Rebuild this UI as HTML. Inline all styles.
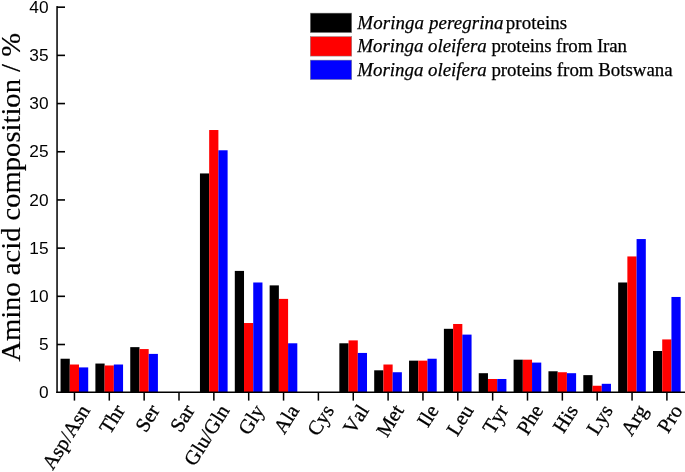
<!DOCTYPE html>
<html><head><meta charset="utf-8"><title>Amino acid composition</title>
<style>
html,body{margin:0;padding:0;background:#fff}
svg{display:block}
.ax{font-family:"Liberation Sans",Arial,sans-serif;font-size:17.3px;fill:#000}
.lb{font-family:"Liberation Serif","Times New Roman",serif;font-size:20.5px;fill:#000;stroke:#000;stroke-width:0.3px;font-kerning:none}
.yt{font-family:"Liberation Serif","Times New Roman",serif;font-size:26.8px;fill:#000;stroke:#000;stroke-width:0.15px}
.lg{font-family:"Liberation Serif","Times New Roman",serif;font-size:18.9px;fill:#000;stroke:#000;stroke-width:0.25px}
</style></head><body>
<svg width="685" height="472" viewBox="0 0 685 472">
<rect width="685" height="472" fill="#fff"/>
<rect x="60.55" y="358.73" width="9.22" height="33.77" fill="#000"/>
<rect x="69.77" y="364.51" width="9.22" height="27.98" fill="#f00"/>
<rect x="78.99" y="367.41" width="9.22" height="25.09" fill="#00f"/>
<rect x="95.40" y="363.55" width="9.22" height="28.95" fill="#000"/>
<rect x="104.62" y="365.48" width="9.22" height="27.02" fill="#f00"/>
<rect x="113.84" y="364.51" width="9.22" height="27.98" fill="#00f"/>
<rect x="130.25" y="347.14" width="9.22" height="45.36" fill="#000"/>
<rect x="139.47" y="349.07" width="9.22" height="43.43" fill="#f00"/>
<rect x="148.69" y="353.90" width="9.22" height="38.60" fill="#00f"/>
<rect x="199.95" y="173.44" width="9.22" height="219.06" fill="#000"/>
<rect x="209.17" y="130.02" width="9.22" height="262.48" fill="#f00"/>
<rect x="218.39" y="150.28" width="9.22" height="242.22" fill="#00f"/>
<rect x="234.80" y="270.91" width="9.22" height="121.59" fill="#000"/>
<rect x="244.02" y="323.02" width="9.22" height="69.48" fill="#f00"/>
<rect x="253.24" y="282.49" width="9.22" height="110.01" fill="#00f"/>
<rect x="269.65" y="285.38" width="9.22" height="107.11" fill="#000"/>
<rect x="278.87" y="298.89" width="9.22" height="93.60" fill="#f00"/>
<rect x="288.09" y="343.29" width="9.22" height="49.21" fill="#00f"/>
<rect x="339.35" y="343.29" width="9.22" height="49.21" fill="#000"/>
<rect x="348.57" y="340.39" width="9.22" height="52.11" fill="#f00"/>
<rect x="357.79" y="352.94" width="9.22" height="39.56" fill="#00f"/>
<rect x="374.20" y="370.31" width="9.22" height="22.20" fill="#000"/>
<rect x="383.42" y="364.51" width="9.22" height="27.98" fill="#f00"/>
<rect x="392.64" y="372.24" width="9.22" height="20.27" fill="#00f"/>
<rect x="409.05" y="360.65" width="9.22" height="31.84" fill="#000"/>
<rect x="418.27" y="360.65" width="9.22" height="31.84" fill="#f00"/>
<rect x="427.49" y="358.73" width="9.22" height="33.77" fill="#00f"/>
<rect x="443.90" y="328.81" width="9.22" height="63.69" fill="#000"/>
<rect x="453.12" y="323.99" width="9.22" height="68.52" fill="#f00"/>
<rect x="462.34" y="334.60" width="9.22" height="57.90" fill="#00f"/>
<rect x="478.75" y="373.20" width="9.22" height="19.30" fill="#000"/>
<rect x="487.97" y="378.99" width="9.22" height="13.51" fill="#f00"/>
<rect x="497.19" y="378.99" width="9.22" height="13.51" fill="#00f"/>
<rect x="513.60" y="359.69" width="9.22" height="32.81" fill="#000"/>
<rect x="522.82" y="359.69" width="9.22" height="32.81" fill="#f00"/>
<rect x="532.04" y="362.58" width="9.22" height="29.92" fill="#00f"/>
<rect x="548.45" y="371.27" width="9.22" height="21.23" fill="#000"/>
<rect x="557.67" y="372.24" width="9.22" height="20.27" fill="#f00"/>
<rect x="566.89" y="373.20" width="9.22" height="19.30" fill="#00f"/>
<rect x="583.30" y="375.13" width="9.22" height="17.37" fill="#000"/>
<rect x="592.52" y="385.75" width="9.22" height="6.75" fill="#f00"/>
<rect x="601.74" y="383.81" width="9.22" height="8.69" fill="#00f"/>
<rect x="618.15" y="282.49" width="9.22" height="110.01" fill="#000"/>
<rect x="627.37" y="256.44" width="9.22" height="136.06" fill="#f00"/>
<rect x="636.59" y="239.06" width="9.22" height="153.44" fill="#00f"/>
<rect x="653.00" y="351.00" width="9.22" height="41.49" fill="#000"/>
<rect x="662.22" y="339.43" width="9.22" height="53.08" fill="#f00"/>
<rect x="671.44" y="296.96" width="9.22" height="95.54" fill="#00f"/>
<rect x="56.3" y="6.1" width="1.5" height="386.9" fill="#000"/>
<rect x="56.3" y="391.5" width="628.7" height="1.5" fill="#000"/>
<text class="ax" x="48.6" y="398.40" text-anchor="end">0</text>
<rect x="57" y="343.71" width="8" height="1.6" fill="#000"/>
<text class="ax" x="48.6" y="350.21" text-anchor="end">5</text>
<rect x="57" y="295.52" width="8" height="1.6" fill="#000"/>
<text class="ax" x="48.6" y="302.02" text-anchor="end">10</text>
<rect x="57" y="247.33" width="8" height="1.6" fill="#000"/>
<text class="ax" x="48.6" y="253.83" text-anchor="end">15</text>
<rect x="57" y="199.14" width="8" height="1.6" fill="#000"/>
<text class="ax" x="48.6" y="205.64" text-anchor="end">20</text>
<rect x="57" y="150.95" width="8" height="1.6" fill="#000"/>
<text class="ax" x="48.6" y="157.45" text-anchor="end">25</text>
<rect x="57" y="102.76" width="8" height="1.6" fill="#000"/>
<text class="ax" x="48.6" y="109.26" text-anchor="end">30</text>
<rect x="57" y="54.57" width="8" height="1.6" fill="#000"/>
<text class="ax" x="48.6" y="61.07" text-anchor="end">35</text>
<rect x="57" y="6.38" width="8" height="1.6" fill="#000"/>
<text class="ax" x="48.6" y="12.88" text-anchor="end">40</text>
<rect x="73.70" y="392.5" width="1.5" height="8.1" fill="#000"/>
<text class="lb" transform="translate(90.75,410.2) rotate(-58)" text-anchor="end">Asp/Asn</text>
<rect x="108.55" y="392.5" width="1.5" height="8.1" fill="#000"/>
<text class="lb" transform="translate(125.60,410.2) rotate(-58)" text-anchor="end">Thr</text>
<rect x="143.40" y="392.5" width="1.5" height="8.1" fill="#000"/>
<text class="lb" transform="translate(160.45,410.2) rotate(-58)" text-anchor="end">Ser</text>
<rect x="178.25" y="392.5" width="1.5" height="8.1" fill="#000"/>
<text class="lb" transform="translate(195.30,410.2) rotate(-58)" text-anchor="end">Sar</text>
<rect x="213.10" y="392.5" width="1.5" height="8.1" fill="#000"/>
<text class="lb" transform="translate(230.15,410.2) rotate(-58)" text-anchor="end">Glu/Gln</text>
<rect x="247.95" y="392.5" width="1.5" height="8.1" fill="#000"/>
<text class="lb" transform="translate(265.00,410.2) rotate(-58)" text-anchor="end">Gly</text>
<rect x="282.80" y="392.5" width="1.5" height="8.1" fill="#000"/>
<text class="lb" transform="translate(299.85,410.2) rotate(-58)" text-anchor="end">Ala</text>
<rect x="317.65" y="392.5" width="1.5" height="8.1" fill="#000"/>
<text class="lb" transform="translate(334.70,410.2) rotate(-58)" text-anchor="end">Cys</text>
<rect x="352.50" y="392.5" width="1.5" height="8.1" fill="#000"/>
<text class="lb" transform="translate(369.55,410.2) rotate(-58)" text-anchor="end">Val</text>
<rect x="387.35" y="392.5" width="1.5" height="8.1" fill="#000"/>
<text class="lb" transform="translate(404.40,410.2) rotate(-58)" text-anchor="end">Met</text>
<rect x="422.20" y="392.5" width="1.5" height="8.1" fill="#000"/>
<text class="lb" transform="translate(439.25,410.2) rotate(-58)" text-anchor="end">Ile</text>
<rect x="457.05" y="392.5" width="1.5" height="8.1" fill="#000"/>
<text class="lb" transform="translate(474.10,410.2) rotate(-58)" text-anchor="end">Leu</text>
<rect x="491.90" y="392.5" width="1.5" height="8.1" fill="#000"/>
<text class="lb" transform="translate(508.95,410.2) rotate(-58)" text-anchor="end">Tyr</text>
<rect x="526.75" y="392.5" width="1.5" height="8.1" fill="#000"/>
<text class="lb" transform="translate(543.80,410.2) rotate(-58)" text-anchor="end">Phe</text>
<rect x="561.60" y="392.5" width="1.5" height="8.1" fill="#000"/>
<text class="lb" transform="translate(578.65,410.2) rotate(-58)" text-anchor="end">His</text>
<rect x="596.45" y="392.5" width="1.5" height="8.1" fill="#000"/>
<text class="lb" transform="translate(613.50,410.2) rotate(-58)" text-anchor="end">Lys</text>
<rect x="631.30" y="392.5" width="1.5" height="8.1" fill="#000"/>
<text class="lb" transform="translate(648.35,410.2) rotate(-58)" text-anchor="end">Arg</text>
<rect x="666.15" y="392.5" width="1.5" height="8.1" fill="#000"/>
<text class="lb" transform="translate(683.20,410.2) rotate(-58)" text-anchor="end">Pro</text>
<text class="yt" transform="translate(20.3,361.7) rotate(-90) scale(1.067,1)">Amino acid composition / %</text>
<rect x="310.25" y="13.1" width="41.5" height="19.5" fill="#000" stroke="#888" stroke-width="0.5"/>
<text class="lg" x="357.3" y="28.70" font-style="italic" textLength="146.2">Moringa peregrina</text><text class="lg" x="505.8" y="28.70" textLength="61.3">proteins</text>
<rect x="310.25" y="36.6" width="41.5" height="19.5" fill="#f00" stroke="#888" stroke-width="0.5"/>
<text class="lg" x="357.3" y="52.35" font-style="italic" textLength="129.4">Moringa oleifera</text><text class="lg" x="491.4" y="52.35" textLength="135.6">proteins from Iran</text>
<rect x="310.25" y="60.1" width="41.5" height="19.5" fill="#00f" stroke="#888" stroke-width="0.5"/>
<text class="lg" x="357.3" y="76.00" font-style="italic" textLength="129.4">Moringa oleifera</text><text class="lg" x="491.4" y="76.00" textLength="181.2">proteins from Botswana</text>
</svg></body></html>
